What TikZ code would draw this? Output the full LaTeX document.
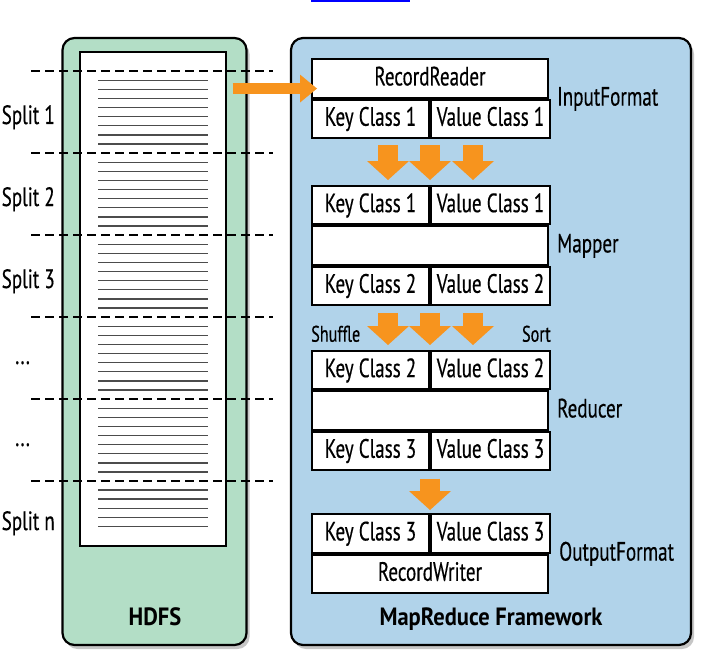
\documentclass[tikz,border=0pt]{standalone}
\usepackage{fontspec}
\setmainfont{PT Sans}[FakeStretch=0.72, FakeBold=0.4]
\newfontfamily\headfont{PT Sans Bold}[FakeStretch=0.9]
\usetikzlibrary{arrows.meta,positioning,calc,shadows}
\definecolor{hdfsgreen}{RGB}{179,222,198}
\definecolor{mrblue}{RGB}{177,211,234}
\definecolor{flow}{RGB}{247,148,30}

\begin{document}
\begin{tikzpicture}[x=1pt, y=-1pt,
    panel/.style={draw, line width=2.2pt, rounded corners=12pt,
      drop shadow={shadow xshift=3pt, shadow yshift=-4pt, opacity=0.45}},
    cell/.style={draw, line width=2pt, fill=white, inner sep=0pt,
      minimum height=38.3pt, font=\fontsize{26.5}{31}\selectfont,
      text height=18.5pt, text depth=4.5pt},
    keycell/.style={cell, minimum width=117pt},
    valcell/.style={cell, minimum width=119pt},
    widecell/.style={cell, minimum width=236pt},
    lbl/.style={inner sep=0pt, font=\fontsize{26.5}{31}\selectfont,
      text height=18.5pt, text depth=4.5pt},
    small/.style={lbl, font=\fontsize{22.5}{27}\selectfont},
    head/.style={lbl, font=\fontsize{25}{30}\headfont},
    fat/.style={draw=flow, line width=20pt,
      -{Triangle[length=19pt, width=42pt, line width=0pt]}},
    cut/.style={line width=2.2pt, dash pattern=on 9pt off 5pt},
    txt/.style={line width=1.3pt, black!70}]
        \useasboundingbox (0,0) rectangle (711,666);
        \draw[blue, line width=1.6pt] (311,0.8) -- (410,0.8);
        \draw[panel, fill=hdfsgreen] (62.5,38) rectangle (246.5,645);
        \draw[panel, fill=mrblue] (291,38) rectangle (691,645);
        \node[draw, line width=2pt, fill=white, minimum width=146pt, minimum height=493pt] (page) at (153,299) {};
        \foreach \s in {71,153,235,317,399}
          \foreach \k in {0,...,7}
            \draw[txt] (98,\s+9.3+9.1*\k) -- (208,\s+9.3+9.1*\k);
        \foreach \k in {0,...,4}
          \draw[txt] (98,490+9.1*\k) -- (208,490+9.1*\k);
        \foreach \s in {71,153,235,317,399,481}
          \draw[cut] (31,\s) -- (273,\s);
        \node[lbl, anchor=base west] (s1) at (1.5,124) {Split 1};
        \node[lbl, anchor=base west] (s2) at (1.5,206) {Split 2};
        \node[lbl, anchor=base west] (s3) at (1.5,288) {Split 3};
        \node[lbl, anchor=base west] (d1) at (15,364) {...};
        \node[lbl, anchor=base west] (d2) at (15,446) {...};
        \node[lbl, anchor=base west] (sn) at (1.5,530) {Split n};
        \node[head] (hdfs) at (155,618) {HDFS};
        % InputFormat
        \node[widecell, anchor=north west] (rr) at (311,58.3) {RecordReader};
        \node[keycell, anchor=north west] (ik) at (rr.south west) {Key Class 1};
        \node[valcell, right=0pt of ik] (iv) {Value Class 1};
        % Mapper
        \node[keycell, anchor=north west] (mk) at (311,185) {Key Class 1};
        \node[valcell, right=0pt of mk] (mv) {Value Class 1};
        \node[widecell, anchor=north west] (mmid) at (mk.south west) {};
        \node[keycell, anchor=north west] (mk2) at (mmid.south west) {Key Class 2};
        \node[valcell, right=0pt of mk2] (mv2) {Value Class 2};
        % Reducer
        \node[keycell, anchor=north west] (rk) at (311,350) {Key Class 2};
        \node[valcell, right=0pt of rk] (rv) {Value Class 2};
        \node[widecell, anchor=north west] (rmid) at (rk.south west) {};
        \node[keycell, anchor=north west] (rk3) at (rmid.south west) {Key Class 3};
        \node[valcell, right=0pt of rk3] (rv3) {Value Class 3};
        % OutputFormat
        \node[keycell, anchor=north west] (ok) at (311,513.3) {Key Class 3};
        \node[valcell, right=0pt of ok] (ov) {Value Class 3};
        \node[widecell, anchor=north west] (rw) at (ok.south west) {RecordWriter};
        \node[lbl, anchor=west] (fin) at ([xshift=8pt]rr.south east) {InputFormat};
        \node[lbl, anchor=west] (fmap) at ([xshift=8pt]mmid.east) {Mapper};
        \node[lbl, anchor=west] (fred) at ([xshift=8pt]rmid.east) {Reducer};
        \node[lbl, anchor=west] (fout) at ([xshift=8pt]ov.south east) {OutputFormat};
        \node[small, anchor=base west] (shuf) at ([yshift=8.3pt]rk.north west) {Shuffle};
        \node[small, anchor=base east] (sort) at ([yshift=8.3pt]rv.north east) {Sort};
        \node[head] (mrf) at (491,618) {MapReduce Framework};
        \coordinate (feed) at ([yshift=-10.1pt]rr.west);
        \draw[fat, line width=11.5pt, -{Triangle[length=17pt, width=28pt, line width=0pt]}, shorten <=5.7pt] (page.east |- feed) -- ([xshift=6pt]feed);
        \foreach \dx in {-42,0,43}
          \draw[fat, shorten <=6.5pt, shorten >=5pt] ([xshift=\dx pt]ik.south east) -- ([xshift=\dx pt]mk.north east);
        \foreach \dx in {-42,0,43}
          \draw[fat, shorten <=6.8pt, shorten >=5pt] ([xshift=\dx pt]mk2.south east) -- ([xshift=\dx pt]rk.north east);
        \draw[fat, shorten <=7.7pt, shorten >=3.3pt] (rk3.south east) -- (ok.north east);
      \end{tikzpicture}
\end{document}
